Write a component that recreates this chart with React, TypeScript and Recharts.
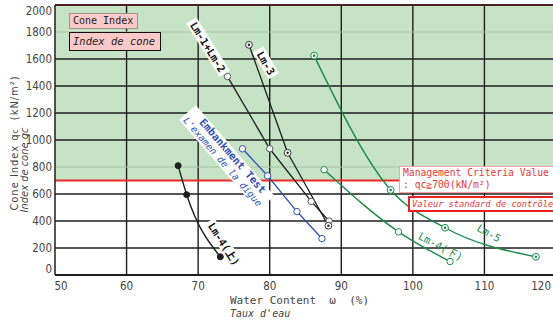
import { LineChart, Line, XAxis, YAxis, ReferenceLine, ReferenceArea } from "recharts";

// water content (%) / cone index (kN/m2)
const LM12_W = [74.1, 80.0, 85.8, 88.3];
const LM12_Q = [1470, 935, 545, 400];
const LM3_W = [77.1, 82.5, 88.2];
const LM3_Q = [1705, 905, 365];
const EMB_W = [76.2, 79.7, 83.8, 87.3];
const EMB_Q = [935, 735, 470, 270];
const LM4U_W = [67.2, 68.4, 73.1];
const LM4U_Q = [810, 595, 135];
const LM5_W = [86.2, 96.9, 104.5, 117.2];
const LM5_Q = [1625, 630, 350, 135];
const LM4D_W = [87.6, 98.0, 105.2];
const LM4D_Q = [780, 320, 100];

const X_TICKS = [50, 60, 70, 80, 90, 100, 110, 120];
const Y_TICKS = [0, 200, 400, 600, 800, 1000, 1200, 1400, 1600, 1800, 2000];
const X_GRID = [60, 70, 80, 90, 100, 110];
const Y_GRID = [200, 400, 600, 1000, 1200, 1400, 1600];
const Y_FAINT = [800, 1800];
const CRITERIA = 700;
const X_MINOR = Array.from({ length: 36 }, (_, i) => 50 + i * 2);
const Y_MINOR = Array.from({ length: 51 }, (_, i) => i * 40);

const BLACK = "#1e1e1e";
const BLUE = "#2f50b4";
const GREEN = "#1a8a48";
const RED = "#ee2a2a";
const GREEN_BG = "#c6e3c6";
const MONO = '"DejaVu Sans Mono", "Liberation Mono", "Noto Sans CJK JP", monospace';
const COND = '"DejaVu Sans Condensed", "DejaVu Sans", sans-serif';

const pts = (w: number[], q: number[]) => w.map((v, i) => ({ w: v, q: q[i] }));

const filledDot = (color: string) => (p: any) => (
  <circle key={`f${p.index}`} cx={p.cx} cy={p.cy} r={3} fill={color} stroke={color} />
);
const openDot = (color: string) => (p: any) => (
  <circle key={`o${p.index}`} cx={p.cx} cy={p.cy} r={3.2} fill="#fff" stroke={color} strokeWidth={1} />
);
const ringDot = (color: string) => (p: any) => (
  <g key={`r${p.index}`}>
    <circle cx={p.cx} cy={p.cy} r={3.4} fill="#fff" stroke={color} strokeWidth={1} />
    <circle cx={p.cx} cy={p.cy} r={1.3} fill={color} />
  </g>
);

const XTick = (p: any) => {
  const v = p.payload.value;
  // first and last labels are pulled inside the frame edges
  if (v === 120) {
    return (
      <text x={551} y={p.y + 15} textAnchor="end" fontSize={11.5} fill="#444" fontFamily={COND}>
        {v}
      </text>
    );
  }
  return (
    <text x={p.x + (v === 50 ? 6 : 0)} y={p.y + 15} textAnchor="middle" fontSize={11.5} fill="#444" fontFamily={COND}>
      {v}
    </text>
  );
};
const YTick = (p: any) => {
  const v = p.payload.value;
  const dy = v === 0 ? -6 : v === 2000 ? 6 : 0;
  return (
    <text x={p.x - 3} y={p.y + dy + 4} textAnchor="end" fontSize={11.5} fill="#444" fontFamily={COND}>
      {v}
    </text>
  );
};
const BottomMinor = (p: any) => <line x1={p.x} x2={p.x} y1={p.y - 1} y2={p.y - 5} stroke={BLACK} />;
const TopMinor = (p: any) => <line x1={p.x} x2={p.x} y1={p.y} y2={p.y + 4} stroke={BLACK} />;
const LeftMinor = (p: any) => <line x1={p.x + 1} x2={p.x + 5} y1={p.y} y2={p.y} stroke={BLACK} />;

const rot = (deg: number): React.CSSProperties => ({
  position: "absolute",
  transform: `translate(-50%, -50%) rotate(${deg}deg)`,
  whiteSpace: "nowrap",
  fontFamily: MONO,
});

export default function App() {
  return (
    <div style={{ position: "absolute", left: 0, top: 0, width: 553, height: 323, overflow: "hidden", background: "#fff" }}>
      <LineChart width={560} height={323} margin={{ top: 4, right: 4, bottom: 46, left: 53 }}>
        <XAxis dataKey="w" type="number" domain={[50, 120]} ticks={X_TICKS} interval={0} height={1}
          tickSize={0} tickMargin={0} tickLine={false} axisLine={{ stroke: BLACK, strokeWidth: 2 }} tick={XTick} allowDataOverflow />
        <XAxis xAxisId="bm" type="number" domain={[50, 120]} ticks={X_MINOR} interval={0} height={1}
          tickSize={0} tickMargin={0} tickLine={false} axisLine={false} tick={BottomMinor} />
        <XAxis xAxisId="tm" orientation="top" type="number" domain={[50, 120]} ticks={X_MINOR} interval={0} height={1}
          tickSize={0} tickMargin={0} tickLine={false} axisLine={{ stroke: "#4a2222", strokeWidth: 2 }} tick={TopMinor} />
        <YAxis type="number" domain={[0, 2000]} ticks={Y_TICKS} interval={0} width={1}
          tickSize={0} tickMargin={0} tickLine={false} axisLine={{ stroke: BLACK, strokeWidth: 1.5 }} tick={YTick} allowDataOverflow />
        <YAxis yAxisId="lm" type="number" domain={[0, 2000]} ticks={Y_MINOR} interval={0} width={1}
          tickSize={0} tickMargin={0} tickLine={false} axisLine={false} tick={LeftMinor} />

        <ReferenceArea y1={CRITERIA} y2={2000} fill={GREEN_BG} fillOpacity={1} stroke="none" zIndex={-150} />
        {X_GRID.map((v) => (
          <ReferenceLine key={`gx${v}`} x={v} stroke={BLACK} strokeWidth={1.4} zIndex={-50} />
        ))}
        {Y_GRID.map((v) => (
          <ReferenceLine key={`gy${v}`} y={v} stroke={BLACK} strokeWidth={1.4} zIndex={-50} />
        ))}
        {Y_FAINT.map((v) => (
          <ReferenceLine key={`fy${v}`} y={v} stroke="#a7c3a7" strokeWidth={1} zIndex={-50} />
        ))}
        <ReferenceLine y={CRITERIA} stroke={RED} strokeWidth={2} zIndex={-40} />

        <Line data={pts(LM4U_W, LM4U_Q)} dataKey="q" type="monotone" stroke={BLACK} strokeWidth={1.4}
          dot={filledDot(BLACK)} activeDot={false} isAnimationActive={false} />
        <Line data={pts(LM12_W, LM12_Q)} dataKey="q" type="linear" stroke={BLACK} strokeWidth={1.3}
          dot={openDot("#555")} activeDot={false} isAnimationActive={false} />
        <Line data={pts(LM3_W, LM3_Q)} dataKey="q" type="linear" stroke={BLACK} strokeWidth={1.3}
          dot={ringDot("#333")} activeDot={false} isAnimationActive={false} />
        <Line data={pts(EMB_W, EMB_Q)} dataKey="q" type="linear" stroke={BLUE} strokeWidth={1.3}
          dot={openDot(BLUE)} activeDot={false} isAnimationActive={false} />
        <Line data={pts(LM5_W, LM5_Q)} dataKey="q" type="monotone" stroke={GREEN} strokeWidth={1.4}
          dot={ringDot(GREEN)} activeDot={false} isAnimationActive={false} />
        <Line data={pts(LM4D_W, LM4D_Q)} dataKey="q" type="monotone" stroke={GREEN} strokeWidth={1.4}
          dot={openDot(GREEN)} activeDot={false} isAnimationActive={false} />
      </LineChart>

      {/* legend boxes */}
      <div style={{ position: "absolute", left: 69, top: 13, width: 64, height: 14, background: "#fcc9c9", border: "1px solid #a09090",
        fontFamily: MONO, fontSize: 10, lineHeight: "14px", color: "#222", paddingLeft: 3, whiteSpace: "nowrap" }}>Cone Index</div>
      <div style={{ position: "absolute", left: 69, top: 32, width: 87, height: 17, background: "#fcc9c9", border: "1.5px solid #111",
        fontFamily: MONO, fontSize: 10.5, lineHeight: "17px", color: "#222", fontStyle: "italic", paddingLeft: 3, whiteSpace: "nowrap" }}>Index de cone</div>

      {/* criteria annotation */}
      <div style={{ position: "absolute", left: 399, top: 166, width: 160, height: 25, background: "#fff", border: "1.5px solid #f4a4a4",
        fontFamily: MONO, fontSize: 9.7, lineHeight: "12px", color: "#e83838", paddingLeft: 3, whiteSpace: "pre" }}>
        {"Management Criteria Value\n: qc≧700(kN/m²)"}
      </div>
      <div style={{ position: "absolute", left: 408, top: 196, width: 150, height: 12, background: "#fff", border: "2px solid #e82222",
        fontFamily: MONO, fontSize: 8.7, lineHeight: "12px", color: "#e83838", fontStyle: "italic", paddingLeft: 2, whiteSpace: "nowrap" }}>
        Valeur standard de contrôle
      </div>

      {/* series labels */}
      <div style={{ ...rot(58), left: 208, top: 47, background: "#fff", padding: "0 3px", fontSize: 10.5, fontWeight: 700, color: "#111", lineHeight: "12px" }}>Lm-1+Lm-2</div>
      <div style={{ ...rot(60), left: 266, top: 63, background: "#fff", padding: "0 3px", fontSize: 10.5, fontWeight: 700, color: "#111", lineHeight: "12px" }}>Lm-3</div>
      <div style={{ ...rot(49), left: 227, top: 158, background: "#fff", padding: "0 3px", color: BLUE, lineHeight: "11px" }}>
        <div style={{ fontSize: 10.5, fontWeight: 700, paddingLeft: 12 }}>Embankment Test</div>
        <div style={{ fontSize: 9.5, fontStyle: "italic" }}>L'examen de la digue</div>
      </div>
      <div style={{ ...rot(57), left: 224, top: 244, background: "#fff", padding: "0 3px", fontSize: 10.5, fontWeight: 700, color: "#111", lineHeight: "12px" }}>Lm-4(上)</div>
      <div style={{ ...rot(30), left: 489, top: 233, fontSize: 10.5, color: GREEN }}>Lm-5</div>
      <div style={{ ...rot(28), left: 441, top: 246, fontSize: 10.5, color: GREEN }}>Lm-4(下)</div>

      {/* axis titles */}
      <div style={{ position: "absolute", left: 230, top: 294, fontFamily: MONO, fontSize: 11, color: "#444", whiteSpace: "pre" }}>
        {"Water Content  ω  (%)"}
      </div>
      <div style={{ position: "absolute", left: 230, top: 308, fontFamily: MONO, fontSize: 10, color: "#444", fontStyle: "italic" }}>Taux d'eau</div>
      <div style={{ position: "absolute", left: 14, top: 143, transform: "translate(-50%, -50%) rotate(-90deg)", whiteSpace: "pre",
        fontFamily: COND, fontSize: 11, color: "#444", letterSpacing: 1 }}>
        Cone Index q<span style={{ fontSize: 8 }}>c</span>{"  (kN/m²)"}
      </div>
      <div style={{ position: "absolute", left: 24, top: 170, transform: "translate(-50%, -50%) rotate(-90deg)", whiteSpace: "nowrap",
        fontFamily: COND, fontSize: 11, color: "#444", fontStyle: "italic" }}>
        Index de cone qc
      </div>
    </div>
  );
}
